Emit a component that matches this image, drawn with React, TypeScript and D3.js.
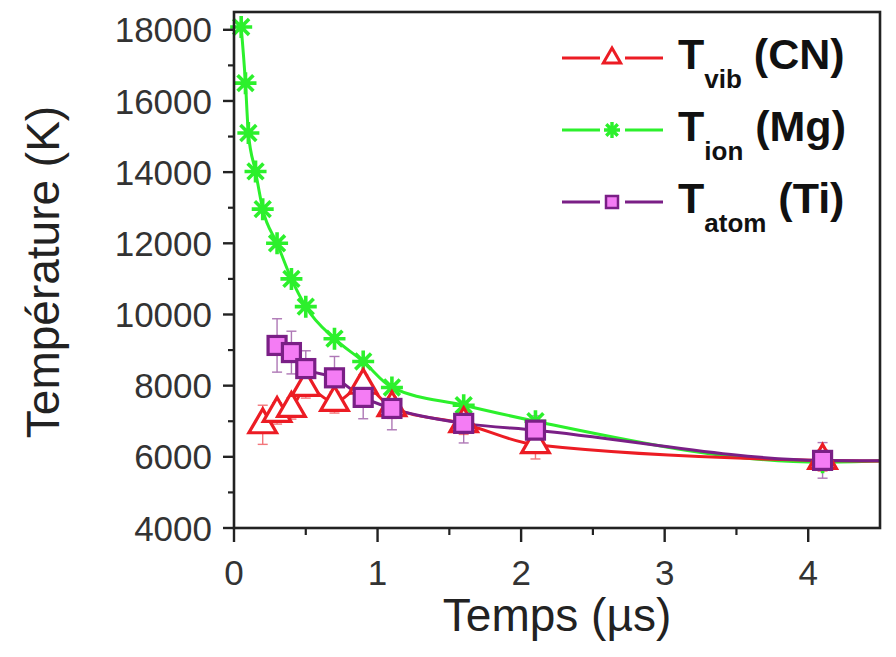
import * as d3 from "d3";
import React from "react";

// Temps (µs) and températures (K)
const vibTime = [0.2, 0.3, 0.4, 0.5, 0.7, 0.9, 1.1, 1.6, 2.1, 4.1];
const vibTemp = [6900, 7220, 7360, 7950, 7530, 8010, 7380, 6930, 6340, 5900];
const vibErr = [550, 300, 300, 300, 300, 300, 300, 300, 400, 300];

const ionTime = [0.05, 0.08, 0.1, 0.15, 0.2, 0.3, 0.4, 0.5, 0.7, 0.9, 1.1, 1.6, 2.1, 4.1];
const ionTemp = [18080, 16500, 15100, 14020, 12960, 12000, 11000, 10220, 9320, 8680, 7950, 7450, 7000, 5850];

const atomTime = [0.3, 0.4, 0.5, 0.7, 0.9, 1.1, 1.6, 2.1, 4.1];
const atomTemp = [9130, 8930, 8480, 8220, 7670, 7360, 6940, 6750, 5900];
const atomErr = [750, 600, 500, 600, 600, 600, 550, 400, 500];

// where the curves leave the frame at 4.5 µs
const tailTime = 4.5;
const tailTemp = [5880, 5880, 5890];

const xTicks = [0, 1, 2, 3, 4];
const yTicks = [4000, 6000, 8000, 10000, 12000, 14000, 16000, 18000];

const RED = "#ec1c24";
const GREEN = "#2cf02c";
const PURPLE = "#7a1f86";
const PINK = "#f47cf4";
const FONT = "'Liberation Sans', Arial, sans-serif";

const W = 896;
const H = 657;
const left = 234;
const right = 880;
const top = 12;
const bottom = 528;

const x = d3.scaleLinear().domain([0, 4.5]).range([left, right]);
const y = d3.scaleLinear().domain([4000, 18500]).range([bottom, top]);

const line = d3
  .line<[number, number]>()
  .x((d) => x(d[0]))
  .y((d) => y(d[1]))
  .curve(d3.curveMonotoneX);

const pts = (t: number[], v: number[], tail: number): [number, number][] =>
  t.map((d, i) => [d, v[i]] as [number, number]).concat([[tailTime, tail]]);

const triangle = d3.symbol().type(d3.symbolTriangle);

function star(r: number) {
  const k = r * 0.72;
  return `M${-r},0L${r},0M0,${-r}L0,${r}M${-k},${-k}L${k},${k}M${-k},${k}L${k},${-k}`;
}

function ErrorBars({ t, v, e, color }: { t: number[]; v: number[]; e: number[]; color: string }) {
  return (
    <g stroke={color} strokeWidth={1.4} opacity={0.6}>
      {t.map((d, i) => (
        <g key={i}>
          <line x1={x(d)} x2={x(d)} y1={y(v[i] - e[i])} y2={y(v[i] + e[i])} />
          <line x1={x(d) - 5} x2={x(d) + 5} y1={y(v[i] - e[i])} y2={y(v[i] - e[i])} />
          <line x1={x(d) - 5} x2={x(d) + 5} y1={y(v[i] + e[i])} y2={y(v[i] + e[i])} />
        </g>
      ))}
    </g>
  );
}

function LegendRow({ yb, color, marker, main, sub, rest }: any) {
  const ly = yb - 11;
  return (
    <g>
      <line x1={562} x2={600} y1={ly} y2={ly} stroke={color} strokeWidth={3} />
      <line x1={625} x2={663} y1={ly} y2={ly} stroke={color} strokeWidth={3} />
      <g transform={`translate(612,${ly})`}>{marker}</g>
      <text x={678} y={yb} fontFamily={FONT} fontWeight="bold" fontSize={43} fill="#111">
        {main}
        <tspan dy={19} fontSize={26}>{sub}</tspan>
        <tspan dy={-19}>{rest}</tspan>
      </text>
    </g>
  );
}

export default function App() {
  const minorY = d3.range(5000, 18001, 2000);
  const minorX = [0.5, 1.5, 2.5, 3.5];
  return (
    <svg width={W} height={H} style={{ position: "absolute", left: 0, top: 0, background: "#fff" }}>
      {/* curves */}
      <path d={line(pts(ionTime, ionTemp, tailTemp[1])) || ""} fill="none" stroke={GREEN} strokeWidth={3} />
      <path d={line(pts(vibTime, vibTemp, tailTemp[0])) || ""} fill="none" stroke={RED} strokeWidth={3} />
      <path d={line(pts(atomTime, atomTemp, tailTemp[2])) || ""} fill="none" stroke={PURPLE} strokeWidth={3} />

      <ErrorBars t={vibTime} v={vibTemp} e={vibErr} color={RED} />
      <ErrorBars t={atomTime} v={atomTemp} e={atomErr} color={PURPLE} />

      {/* markers */}
      {ionTime.map((d, i) => (
        <path key={i} d={star(11)} transform={`translate(${x(d)},${y(ionTemp[i])})`} stroke={GREEN} strokeWidth={3.6} fill="none" />
      ))}
      {vibTime.map((d, i) => (
        <path key={i} d={triangle.size(330)() || ""} transform={`translate(${x(d)},${y(vibTemp[i])})`} stroke={RED} strokeWidth={3.2} fill="#fff" />
      ))}
      {atomTime.map((d, i) => (
        <rect key={i} x={x(d) - 9} y={y(atomTemp[i]) - 9} width={18} height={18} stroke={PURPLE} strokeWidth={3.2} fill={PINK} />
      ))}

      {/* frame */}
      <rect x={left} y={top} width={right - left} height={bottom - top} fill="none" stroke="#222" strokeWidth={2.6} />

      {/* y axis */}
      {yTicks.map((t) => (
        <g key={t}>
          <line x1={left - 11} x2={left} y1={y(t)} y2={y(t)} stroke="#222" strokeWidth={2.4} />
          <text x={left - 22} y={y(t)} dy="0.36em" textAnchor="end" fontFamily={FONT} fontSize={35} fill="#333">
            {t}
          </text>
        </g>
      ))}
      {minorY.map((t) => (
        <line key={t} x1={left - 6} x2={left} y1={y(t)} y2={y(t)} stroke="#222" strokeWidth={2.2} />
      ))}

      {/* x axis */}
      {xTicks.map((t) => (
        <g key={t}>
          <line x1={x(t)} x2={x(t)} y1={bottom} y2={bottom + 14} stroke="#222" strokeWidth={2.4} />
          <text x={x(t)} y={585} textAnchor="middle" fontFamily={FONT} fontSize={35} fill="#333">
            {t}
          </text>
        </g>
      ))}
      {minorX.map((t) => (
        <line key={t} x1={x(t)} x2={x(t)} y1={bottom} y2={bottom + 7} stroke="#222" strokeWidth={2.2} />
      ))}

      <text x={557} y={631} textAnchor="middle" fontFamily={FONT} fontSize={46} fill="#222">
        Temps (µs)
      </text>
      <text transform="translate(59,272) rotate(-90)" textAnchor="middle" fontFamily={FONT} fontSize={46} fill="#222">
        Température (K)
      </text>

      {/* legend */}
      <LegendRow
        yb={69}
        color={RED}
        main="T"
        sub="vib"
        rest=" (CN)"
        marker={<path d={triangle.size(130)() || ""} stroke={RED} strokeWidth={3} fill="#fff" />}
      />
      <LegendRow
        yb={141}
        color={GREEN}
        main="T"
        sub="ion"
        rest=" (Mg)"
        marker={<path d={star(8)} stroke={GREEN} strokeWidth={3.4} fill="none" />}
      />
      <LegendRow
        yb={213}
        color={PURPLE}
        main="T"
        sub="atom"
        rest=" (Ti)"
        marker={<rect x={-6} y={-6} width={12} height={12} stroke={PURPLE} strokeWidth={2.5} fill={PINK} />}
      />
    </svg>
  );
}
